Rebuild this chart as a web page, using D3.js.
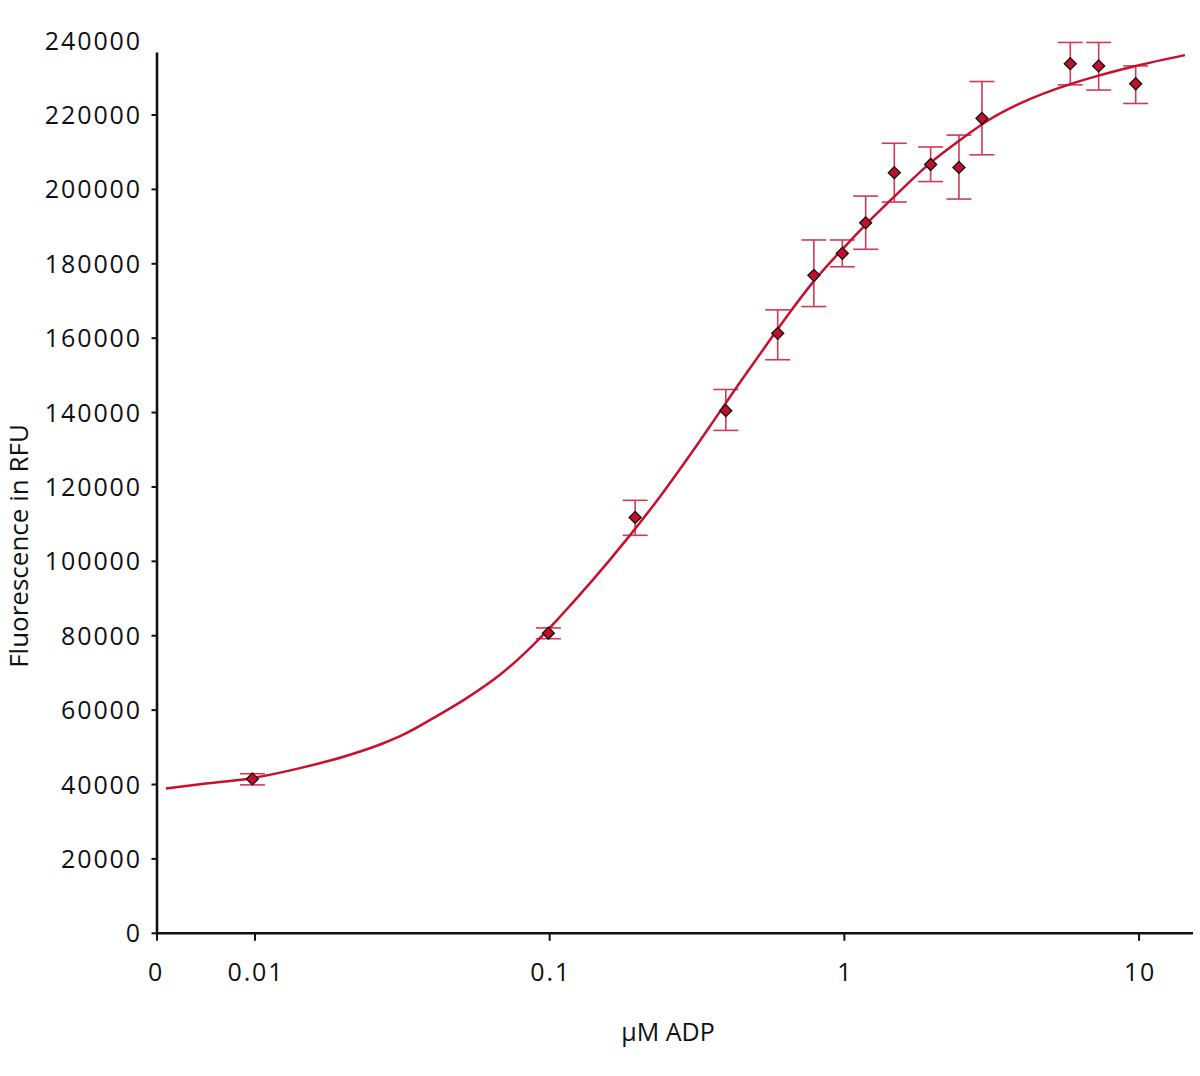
<!DOCTYPE html>
<html>
<head>
<meta charset="utf-8">
<script src="https://cdn.jsdelivr.net/npm/d3@7"></script>
<style>
  html, body { margin: 0; padding: 0; background: #fff; }
  svg { display: block; }
  text { font-family: "Open Sans", sans-serif; fill: #111; }
</style>
</head>
<body>
<svg id="chart" width="1200" height="1076"></svg>
<script>
// ---- data ----
const xVals = [0.0098, 0.099, 0.195, 0.396, 0.594, 0.788, 0.984, 1.181, 1.477, 1.962, 2.448, 2.930, 5.842, 7.293, 9.739];
const yVals = [41500, 80700, 111800, 140500, 161300, 176900, 182800, 191000, 204500, 206700, 205900, 219100, 233800, 233200, 228400];
const yHigh = [42900, 82100, 116400, 146200, 167600, 186400, 186400, 198200, 212400, 211400, 214600, 229000, 239500, 239500, 233200];
const yLow  = [39900, 79200, 107000, 135200, 154200, 168500, 179200, 183900, 196600, 202100, 197400, 209300, 228100, 226700, 223100];

const fitX = [0.00499, 0.00651, 0.00975, 0.01421, 0.02101, 0.02726, 0.03185, 0.04027, 0.05229, 0.06782, 0.08799,
              0.1084, 0.1406, 0.1825, 0.2367, 0.3072, 0.3687, 0.4421, 0.5666, 0.6537, 0.7866, 0.984, 1.184, 1.473,
              1.967, 2.448, 3.120, 4.036, 5.842, 7.293, 9.739, 14.31];
const fitY = [38900, 40100, 41700, 44400, 48000, 51100, 53400, 57850, 63230, 69500, 77570,
              85110, 95140, 105910, 117370, 129850, 138980, 148070, 160180, 166990, 175270, 183880, 190580, 197960,
              207270, 213050, 218840, 223460, 228310, 230590, 233180, 236090];

const xTickVals = [0.004651, 0.01, 0.1, 1, 10];
const xTickLabels = ["0", "0.01", "0.1", "1", "10"];
const yTickVals = [0, 20000, 40000, 60000, 80000, 100000, 120000, 140000, 160000, 180000, 200000, 220000];
const yTopLabel = 240000;
const yAxisTop = 236800;
const xDomain = [0.004651, 15.24];
const yDomain = [0, 240000];

const xTitle = "μM ADP";
const yTitle = "Fluorescence in RFU";

// ---- layout ----
const svg = d3.select("#chart");
const padL = 157, padR = 1193, padT = 40.6, padB = 933.3;

const x = d3.scaleLog().domain(xDomain).range([padL, padR]);
const y = d3.scaleLinear().domain(yDomain).range([padB, padT]);

const curveColor = "#c8102e";
const errColor = "#d03a55";
const axisColor = "#111";

// y axis line
svg.append("line")
  .attr("x1", padL).attr("x2", padL)
  .attr("y1", y(0) + 1).attr("y2", y(yAxisTop))
  .attr("stroke", axisColor).attr("stroke-width", 2.6);
// x axis line
svg.append("line")
  .attr("x1", padL - 1).attr("x2", padR)
  .attr("y1", y(0)).attr("y2", y(0))
  .attr("stroke", axisColor).attr("stroke-width", 2.6);

// y ticks
const yg = svg.append("g");
yg.selectAll("line").data(yTickVals).join("line")
  .attr("x1", padL - 5.5).attr("x2", padL)
  .attr("y1", d => y(d)).attr("y2", d => y(d))
  .attr("stroke", axisColor).attr("stroke-width", 2);
yg.selectAll("text").data(yTickVals.concat([yTopLabel])).join("text")
  .attr("x", padL - 15).attr("y", d => y(d) + 9)
  .attr("text-anchor", "end")
  .style("font-size", "25px").style("letter-spacing", "1.9px")
  .text(d => String(d));

// x ticks
const xg = svg.append("g");
xg.selectAll("line").data(xTickVals).join("line")
  .attr("x1", d => x(d)).attr("x2", d => x(d))
  .attr("y1", y(0)).attr("y2", y(0) + 7.5)
  .attr("stroke", axisColor).attr("stroke-width", 2);
xg.selectAll("text").data(xTickVals).join("text")
  .attr("x", (d, i) => x(d) + (i === 0 ? -1 : 1))
  .attr("y", 981)
  .attr("text-anchor", "middle")
  .style("font-size", "25px").style("letter-spacing", "1.9px")
  .text((d, i) => xTickLabels[i]);

// titles
svg.append("text")
  .attr("x", 668).attr("y", 1041)
  .attr("text-anchor", "middle")
  .style("font-size", "25px")
  .text(xTitle);
svg.append("text")
  .attr("transform", "translate(28,546) rotate(-90)")
  .attr("text-anchor", "middle")
  .style("font-size", "26px")
  .text(yTitle);

// error bars
const pts = xVals.map((v, i) => ({x: v, y: yVals[i], hi: yHigh[i], lo: yLow[i]}));
const eg = svg.append("g").attr("stroke", errColor).attr("stroke-width", 1.6).attr("fill", "none");
pts.forEach(p => {
  const cx = x(p.x);
  eg.append("line").attr("x1", cx).attr("x2", cx).attr("y1", y(p.hi)).attr("y2", y(p.lo));
  eg.append("line").attr("x1", cx - 12.5).attr("x2", cx + 12.5).attr("y1", y(p.hi)).attr("y2", y(p.hi));
  eg.append("line").attr("x1", cx - 12.5).attr("x2", cx + 12.5).attr("y1", y(p.lo)).attr("y2", y(p.lo));
});

// fitted curve
const fit = fitX.map((v, i) => [v, fitY[i]]);
svg.append("path")
  .datum(fit)
  .attr("fill", "none")
  .attr("stroke", curveColor)
  .attr("stroke-width", 2.5)
  .attr("d", d3.line().x(d => x(d[0])).y(d => y(d[1])).curve(d3.curveMonotoneX));

// points (diamonds)
const sym = d3.symbol().type(d3.symbolSquare).size(72);
svg.append("g").selectAll("path").data(pts).join("path")
  .attr("transform", d => `translate(${x(d.x)},${y(d.y)}) rotate(45)`)
  .attr("d", sym)
  .attr("fill", "#c0102c")
  .attr("stroke", "#111")
  .attr("stroke-width", 1.3);
</script>
</body>
</html>
